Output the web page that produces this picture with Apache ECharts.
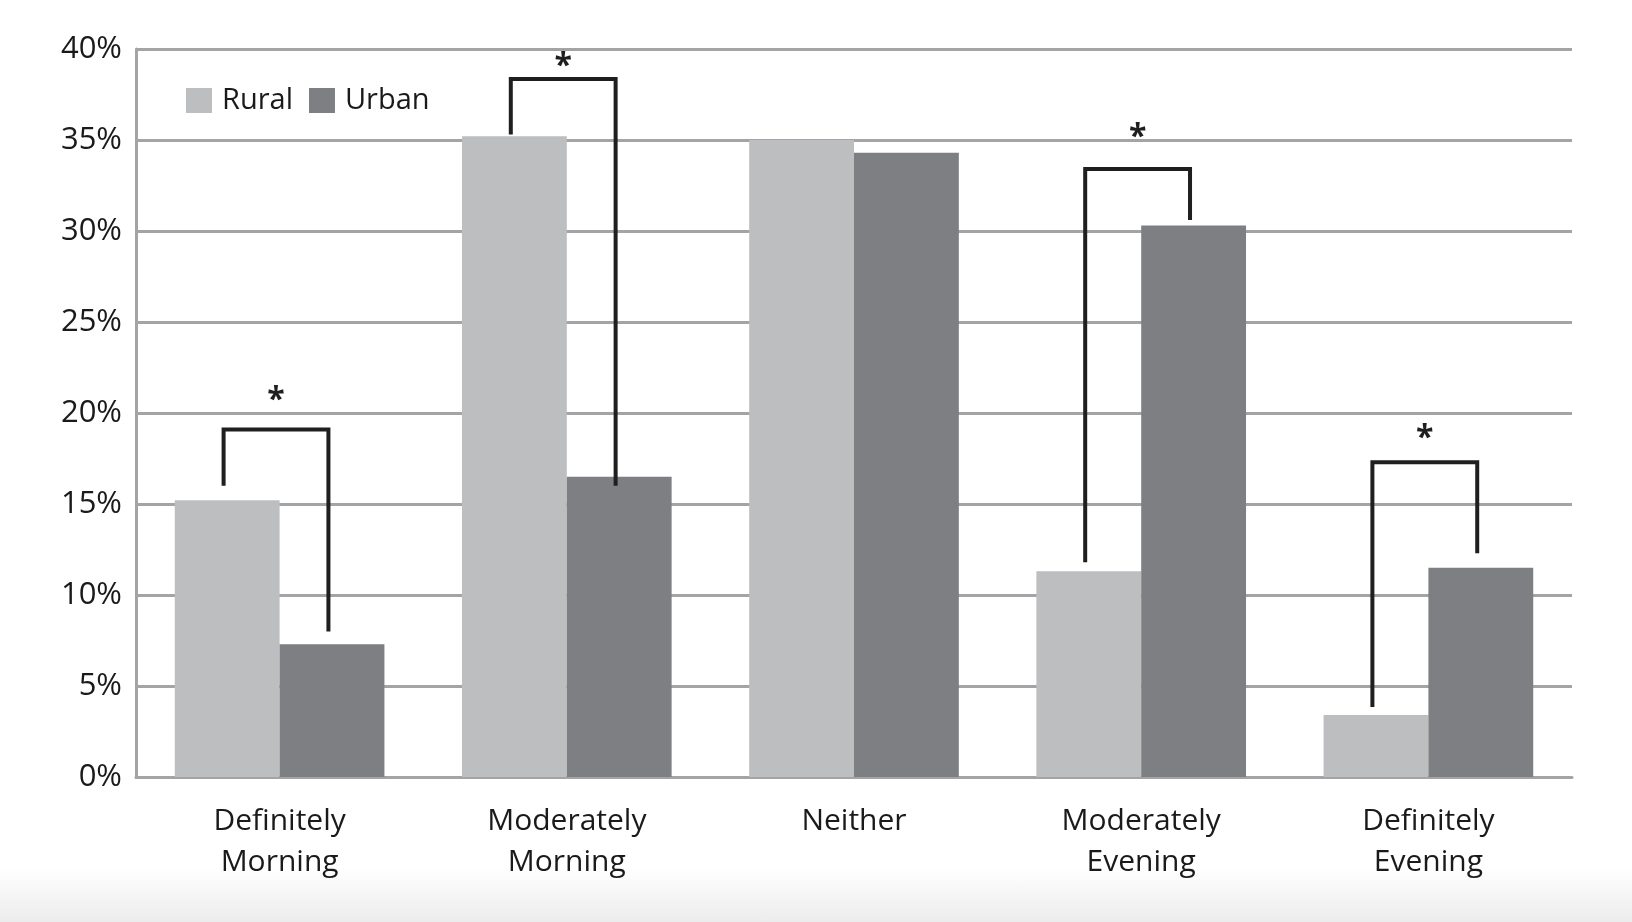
<!DOCTYPE html>
<html>
<head>
<meta charset="utf-8">
<script src="https://cdn.jsdelivr.net/npm/echarts@6/dist/echarts.min.js"></script>
<style>
  html, body { margin: 0; padding: 0; }
  body { width: 1632px; height: 922px; background: linear-gradient(to bottom, #ffffff 0px, #ffffff 868px, #ececec 922px); }
  #chart { width: 1632px; height: 922px; }
</style>
</head>
<body>
<div id="chart"></div>
<script>
// ---- data ----
const categories = ['Definitely\nMorning', 'Moderately\nMorning', 'Neither', 'Moderately\nEvening', 'Definitely\nEvening'];
const seriesNames = ['Rural', 'Urban'];
const rural = [15.2, 35.2, 35.0, 11.3, 3.4];
const urban = [7.3, 16.5, 34.3, 30.3, 11.5];
const yTicks = [0, 5, 10, 15, 20, 25, 30, 35, 40];

// significance brackets (values in % units)
const bracketCat = [0, 1, 3, 4];
const bracketLeftEnd = [16.0, 35.3, 11.8, 3.85];
const bracketTop = [19.1, 38.35, 33.4, 17.3];
const bracketRightEnd = [8.0, 16.0, 30.6, 12.3];
const starLevel = [21.1, 39.45, 35.55, 19.0];
const starText = '*';

// ---- chart ----
const FONT = '"Open Sans", "DejaVu Sans", sans-serif';
const TEXT = '#1a1a1a';
const GRID = '#a4a4a6';

const bracketData = bracketCat.map((c, i) => [c, bracketLeftEnd[i], bracketTop[i], bracketRightEnd[i], starLevel[i]]);

const chart = echarts.init(document.getElementById('chart'), null, { renderer: 'canvas' });
chart.setOption({
  backgroundColor: 'transparent',
  animation: false,
  textStyle: { fontFamily: FONT },
  grid: { left: 136, right: 60, top: 49, bottom: 145, containLabel: false },
  legend: {
    data: seriesNames,
    left: 181,
    top: 81,
    itemWidth: 26,
    itemHeight: 25,
    itemGap: 16,
    icon: 'rect',
    textStyle: { fontFamily: FONT, fontSize: 29, color: TEXT, padding: [0, 0, 0, 5] }
  },
  xAxis: {
    type: 'category',
    data: categories,
    axisLine: { show: true, lineStyle: { color: GRID, width: 3 } },
    axisTick: { show: false },
    axisLabel: {
      interval: 0,
      margin: 24,
      fontFamily: FONT,
      fontSize: 30,
      lineHeight: 41,
      color: TEXT
    },
    splitLine: { show: false }
  },
  yAxis: {
    type: 'value',
    min: yTicks[0],
    max: yTicks[yTicks.length - 1],
    interval: yTicks[1] - yTicks[0],
    axisLine: { show: true, lineStyle: { color: GRID, width: 3 } },
    axisTick: { show: false },
    axisLabel: {
      margin: 14,
      fontFamily: FONT,
      fontSize: 31,
      color: TEXT,
      formatter: '{value}%'
    },
    splitLine: { show: true, lineStyle: { color: GRID, width: 3 } }
  },
  series: [
    {
      name: seriesNames[0],
      type: 'bar',
      data: rural,
      barGap: '0%',
      barCategoryGap: '27%',
      itemStyle: { color: '#bdbec0' },
      z: 2
    },
    {
      name: seriesNames[1],
      type: 'bar',
      data: urban,
      barGap: '0%',
      barCategoryGap: '27%',
      itemStyle: { color: '#7e7f83' },
      z: 2
    },
    {
      name: 'brackets',
      type: 'custom',
      coordinateSystem: 'cartesian2d',
      clip: false,
      z: 5,
      silent: true,
      encode: { x: 0, y: 2 },
      data: bracketData,
      renderItem: function (params, api) {
        const cat = api.value(0);
        const band = api.size([1, 0])[0];
        const cx = api.coord([cat, 0])[0];
        const xl = cx - band * 0.195;
        const xr = cx + band * 0.170;
        const yl = api.coord([cat, api.value(1)])[1];
        const yt = api.coord([cat, api.value(2)])[1];
        const yr = api.coord([cat, api.value(3)])[1];
        const ys = api.coord([cat, api.value(4)])[1];
        return {
          type: 'group',
          children: [
            {
              type: 'polyline',
              shape: { points: [[xl, yl], [xl, yt], [xr, yt], [xr, yr]] },
              style: { stroke: '#1f1f1f', lineWidth: 4, fill: null, lineJoin: 'miter' }
            },
            {
              type: 'text',
              x: (xl + xr) / 2,
              y: ys + 8,
              style: {
                text: starText,
                fontFamily: FONT,
                fontWeight: 'bold',
                fontSize: 32,
                fill: '#1f1f1f',
                align: 'center',
                verticalAlign: 'middle'
              }
            }
          ]
        };
      }
    }
  ]
});
</script>
</body>
</html>
